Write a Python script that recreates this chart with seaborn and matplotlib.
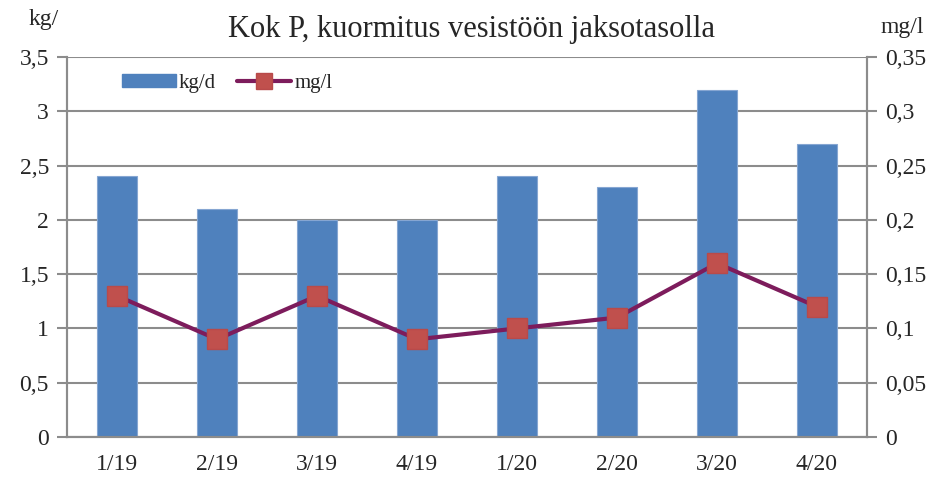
import numpy as np
import pandas as pd
import matplotlib
matplotlib.use('Agg')
import matplotlib.pyplot as plt
import seaborn as sns
from matplotlib.ticker import FuncFormatter, MultipleLocator
from matplotlib.lines import Line2D
from matplotlib.patches import Patch

# data
periods = ['1/19', '2/19', '3/19', '4/19', '1/20', '2/20', '3/20', '4/20']
kg_per_day = [2.4, 2.1, 2.0, 2.0, 2.4, 2.3, 3.2, 2.7]
mg_per_l = [0.13, 0.09, 0.13, 0.09, 0.10, 0.11, 0.16, 0.12]

bar_color = '#4F81BD'
line_color = '#7D1C5C'
marker_color = '#C0504D'
grid_color = '#8C8C8C'

sns.set_style('white')
plt.rcParams['font.family'] = ['Liberation Serif', 'DejaVu Serif']

df = pd.DataFrame({'period': periods, 'kg': kg_per_day, 'mg': mg_per_l})


def comma_fmt(v, pos):
    return '{:g}'.format(round(v, 4)).replace('.', ',')


fig = plt.figure(figsize=(9.38, 4.8), dpi=100)
ax = fig.add_axes([67 / 938, 1 - 437 / 480, 800 / 938, 380 / 480])

sns.barplot(data=df, x='period', y='kg', color=bar_color, width=0.4,
            saturation=1, edgecolor='#86A6D2', linewidth=0.8, ax=ax, zorder=2)
ax.set_xlim(-0.5, len(periods) - 0.5)
ax.set_ylim(0, 3.5)
ax.yaxis.set_major_locator(MultipleLocator(0.5))
ax.yaxis.set_major_formatter(FuncFormatter(comma_fmt))
ax.grid(axis='y', color=grid_color, linewidth=1.5, zorder=0)
ax.set_axisbelow(True)
ax.set_xlabel('')
ax.set_ylabel('')

# category ticks between the bars
ax.set_xticks(np.arange(len(periods) + 1) - 0.5, minor=True)
ax.tick_params(axis='x', which='minor', length=7, width=1.5, color=grid_color)
ax.tick_params(axis='x', which='major', length=0, labelsize=17, pad=12)
ax.tick_params(axis='y', length=7, width=1.5, color=grid_color, labelsize=17, pad=6)

ax2 = ax.twinx()
ax2.plot(np.arange(len(periods)), df['mg'], color=line_color, linewidth=3,
         marker='s', markersize=14, markerfacecolor=marker_color,
         markeredgecolor='#B84A4A', zorder=3)
ax2.set_ylim(0, 0.35)
ax2.yaxis.set_major_locator(MultipleLocator(0.05))
ax2.yaxis.set_major_formatter(FuncFormatter(comma_fmt))
ax2.tick_params(axis='y', length=7, width=1.5, color=grid_color, labelsize=17, pad=6)

for a in (ax, ax2):
    a.spines['top'].set_visible(False)
    for s in ('left', 'right', 'bottom'):
        a.spines[s].set_color(grid_color)
        a.spines[s].set_linewidth(1.5)

fig.text(471 / 938, 1 - 30 / 480, 'Kok P, kuormitus vesistöön jaksotasolla',
         ha='center', va='center', fontsize=22)
fig.text(44 / 938, 1 - 20 / 480, 'kg/', ha='center', va='center', fontsize=17)
fig.text(902 / 938, 1 - 27 / 480, 'mg/l', ha='center', va='center', fontsize=17)

handles = [Patch(color=bar_color, label='kg/d'),
           Line2D([], [], color=line_color, linewidth=3, marker='s', markersize=11,
                  markerfacecolor=marker_color, markeredgecolor='#B84A4A', label='mg/l')]
ax2.legend(handles=handles, loc='upper left', bbox_to_anchor=(0.045, 1.005), ncol=2,
           frameon=False, fontsize=15, handlelength=2.6, handleheight=0.6,
           handletextpad=0.15, columnspacing=1.0)

fig.savefig('out.png', dpi=100)
